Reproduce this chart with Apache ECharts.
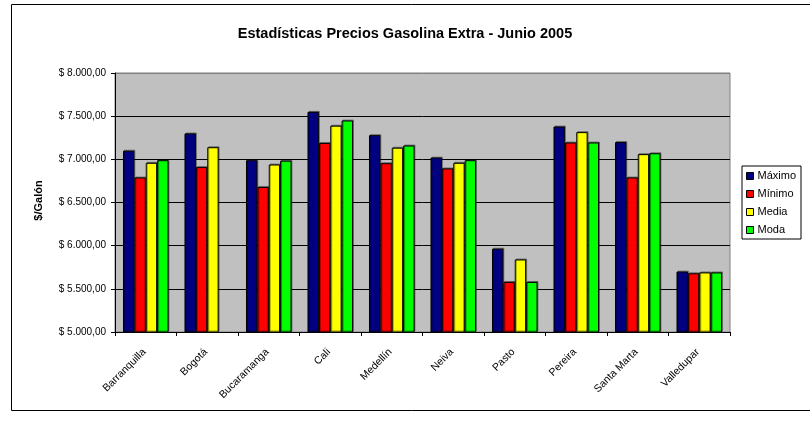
<!DOCTYPE html>
<html>
<head>
<meta charset="utf-8">
<script src="https://cdn.jsdelivr.net/npm/echarts@6/dist/echarts.min.js"></script>
<style>
html,body{margin:0;padding:0;background:#fff;}
#chart{width:810px;height:422px;}
</style>
</head>
<body>
<div id="chart"></div>
<script>
const categories = ['Barranquilla','Bogotá','Bucaramanga','Cali','Medellín','Neiva','Pasto','Pereira','Santa Marta','Valledupar'];
const maximo = [7100, 7300, 6990, 7550, 7280, 7020, 5965, 7380, 7200, 5700];
const minimo = [6790, 6910, 6680, 7190, 6955, 6895, 5580, 7195, 6790, 5680];
const media  = [6960, 7140, 6940, 7390, 7135, 6960, 5840, 7315, 7060, 5690];
const moda   = [6990, null, 6985, 7450, 7160, 6990, 5580, 7195, 7070, 5690];
const yTicks = {min: 5000, max: 8000, interval: 500};

const FONT = '"Liberation Sans", Arial, sans-serif';
function fmt(v){
  const s = Math.round(v).toString().replace(/\B(?=(\d{3})+(?!\d))/g, '.');
  return '$ ' + s + ',00';
}
const seriesDefs = [
  {name:'Máximo', data:maximo, color:'#000080'},
  {name:'Mínimo', data:minimo, color:'#FF0000'},
  {name:'Media',  data:media,  color:'#FFFF00'},
  {name:'Moda',   data:moda,   color:'#00FF00'}
];
const chart = echarts.init(document.getElementById('chart'));
chart.setOption({
  animation:false,
  backgroundColor:'#fff',
  graphic:[{type:'rect', shape:{x:11.5, y:4.5, width:806, height:406}, style:{fill:'none', stroke:'#000', lineWidth:1}, z:-1}],
  title:{text:'Estadísticas Precios Gasolina Extra - Junio 2005', left:'center', top:21,
    textStyle:{fontFamily:FONT, fontSize:14.5, fontWeight:'bold', color:'#000'}},
  legend:{orient:'vertical', left:742, top:166, itemWidth:7, itemHeight:7, itemGap:4,
    icon:'rect', borderColor:'#000', borderWidth:1, padding:[3,5,2,4], backgroundColor:'#fff',
    textStyle:{fontFamily:FONT, fontSize:11, color:'#000', lineHeight:14, padding:[0,0,0,-1]},
    data:seriesDefs.map(s=>({name:s.name, itemStyle:{color:s.color, borderColor:'#000', borderWidth:1}}))},
  grid:{left:115, right:80, top:73, bottom:90, show:true, backgroundColor:'#C0C0C0', borderColor:'#808080', borderWidth:1},
  xAxis:{type:'category', data:categories,
    axisLine:{lineStyle:{color:'#000'}},
    axisTick:{show:true, length:4, lineStyle:{color:'#000'}},
    axisLabel:{rotate:45, fontFamily:FONT, fontSize:10.5, color:'#000', margin:17, interval:0, padding:[0,2,0,0]}},
  yAxis:{type:'value', min:yTicks.min, max:yTicks.max, interval:yTicks.interval,
    name:'$/Galón', nameLocation:'middle', nameGap:71,
    nameTextStyle:{fontFamily:FONT, fontSize:11, fontWeight:'bold', color:'#000', padding:[0,0,0,4]},
    axisLine:{show:true, lineStyle:{color:'#000'}},
    axisTick:{show:true, length:4, lineStyle:{color:'#000'}},
    axisLabel:{fontFamily:FONT, fontSize:10, color:'#000', margin:9, formatter:fmt},
    splitLine:{show:true, lineStyle:{color:['#000','#000','#000','#000','#000','#000','#808080'], width:1}}},
  series:seriesDefs.map(s=>({
    name:s.name, type:'bar', data:s.data, barGap:'0%', barCategoryGap:'26%',
    itemStyle:{color:s.color, borderColor:'#000', borderWidth:1,
      shadowColor:'rgba(0,0,0,0.35)', shadowOffsetX:1, shadowOffsetY:-1, shadowBlur:0}
  }))
});
</script>
</body>
</html>
